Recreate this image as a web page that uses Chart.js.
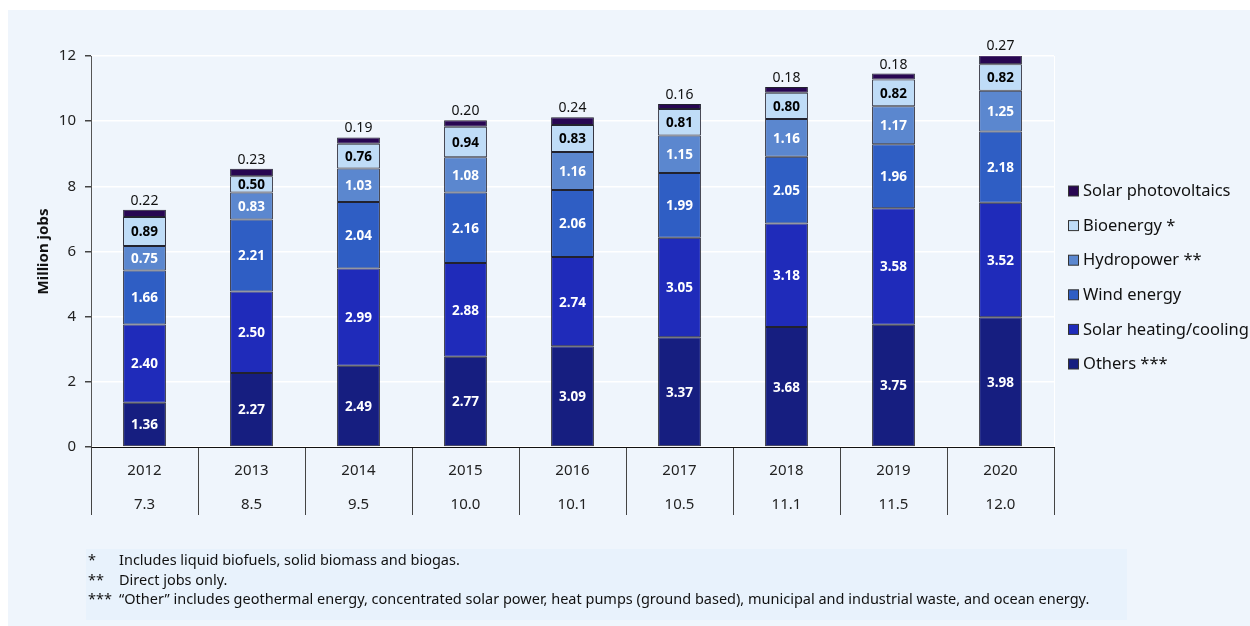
<!DOCTYPE html>
<html>
<head>
<meta charset="utf-8">
<script src="https://cdn.jsdelivr.net/npm/chart.js@4.4.0/dist/chart.umd.min.js"></script>
<style>
html,body{margin:0;padding:0;background:#fff;}
#wrap{position:relative;width:1250px;height:626px;}
</style>
</head>
<body>
<div id="wrap"><canvas id="c" width="1250" height="626"></canvas></div>
<script>
const years = ['2012','2013','2014','2015','2016','2017','2018','2019','2020'];
const totals = ['7.3','8.5','9.5','10.0','10.1','10.5','11.1','11.5','12.0'];
const others = [1.36,2.27,2.49,2.77,3.09,3.37,3.68,3.75,3.98];
const solarHeating = [2.40,2.50,2.99,2.88,2.74,3.05,3.18,3.58,3.52];
const wind = [1.66,2.21,2.04,2.16,2.06,1.99,2.05,1.96,2.18];
const hydro = [0.75,0.83,1.03,1.08,1.16,1.15,1.16,1.17,1.25];
const bio = [0.89,0.50,0.76,0.94,0.83,0.81,0.80,0.82,0.82];
const solarPV = [0.22,0.23,0.19,0.20,0.24,0.16,0.18,0.18,0.27];
const yTicks = [0,2,4,6,8,10,12];
const footnotes = [
  ['*','Includes liquid biofuels, solid biomass and biogas.'],
  ['**','Direct jobs only.'],
  ['***','\u201cOther\u201d includes geothermal energy, concentrated solar power, heat pumps (ground based), municipal and industrial waste, and ocean energy.']
];

const FONT = "'Noto Sans', 'Open Sans', sans-serif";
const seriesDefs = [
  {label:'Others ***', data:others, color:'#161e80', text:'#fff'},
  {label:'Solar heating/cooling', data:solarHeating, color:'#1f2bba', text:'#fff'},
  {label:'Wind energy', data:wind, color:'#2f5ec4', text:'#fff'},
  {label:'Hydropower **', data:hydro, color:'#5b87cf', text:'#fff'},
  {label:'Bioenergy *', data:bio, color:'#bfdcf7', text:'#000'},
  {label:'Solar photovoltaics', data:solarPV, color:'#280652', text:null}
];

const datasets = seriesDefs.map(s => ({
  label: s.label, data: s.data, backgroundColor: s.color,
  borderColor: '#22222e', borderWidth: 1, borderSkipped: false,
  barPercentage: 0.4, categoryPercentage: 1.0
}));

const bgPlugin = {
  id:'bg',
  beforeDraw(chart){
    const ctx = chart.ctx;
    ctx.save();
    ctx.fillStyle = '#ffffff';
    ctx.fillRect(0,0,chart.width,chart.height);
    ctx.fillStyle = 'rgb(239,245,252)';
    ctx.fillRect(8,10,chart.width-8,chart.height-10);
    ctx.fillStyle = 'rgb(232,242,252)';
    ctx.fillRect(86,549,1041,71);
    ctx.restore();
  },
  afterDatasetsDraw(chart){
    const ctx = chart.ctx;
    const ca = chart.chartArea;
    ctx.save();
    ctx.strokeStyle = '#ffffff';
    ctx.lineWidth = 1;
    ctx.beginPath();
    ctx.moveTo(Math.round(ca.right)+0.5, ca.top);
    ctx.lineTo(Math.round(ca.right)+0.5, ca.bottom);
    ctx.stroke();
    ctx.textAlign = 'center';
    ctx.textBaseline = 'middle';
    chart.data.datasets.forEach((ds, di) => {
      const meta = chart.getDatasetMeta(di);
      const def = seriesDefs[di];
      meta.data.forEach((bar, i) => {
        const v = ds.data[i];
        const txt = v.toFixed(2);
        if (def.text) {
          ctx.font = "bold 13.5px " + FONT;
          ctx.fillStyle = def.text;
          ctx.fillText(txt, bar.x, (bar.y + bar.base)/2 + 1);
        } else {
          ctx.font = "14px " + FONT;
          ctx.fillStyle = '#111';
          ctx.fillText(txt, bar.x, bar.y - 9);
        }
      });
    });
    ctx.textAlign = 'left';
    ctx.font = "16.5px " + FONT;
    const rows = [5,4,3,2,1,0];
    rows.forEach((di, k) => {
      const y = 191.5 + k*34.6;
      ctx.fillStyle = seriesDefs[di].color;
      ctx.fillRect(1068.5, y-5.5, 10, 10);
      ctx.strokeStyle = '#333';
      ctx.lineWidth = 1;
      ctx.strokeRect(1068.5, y-5.5, 10, 10);
      ctx.fillStyle = '#111';
      ctx.fillText(seriesDefs[di].label, 1083, y);
    });
    ctx.font = "14.5px " + FONT;
    ctx.fillStyle = '#111';
    footnotes.forEach((f, k) => {
      const y = 561 + k*19.5;
      ctx.fillText(f[0], 88, y);
      ctx.fillText(f[1], 119, y);
    });
    ctx.restore();
  }
};

new Chart(document.getElementById('c'), {
  type: 'bar',
  data: { labels: years.map((y,i)=>[y, totals[i]]), datasets },
  plugins: [bgPlugin],
  options: {
    responsive: false,
    animation: false,
    layout: { padding: { left: 22, right: 196, top: 56, bottom: 0 } },
    plugins: { legend: { display: false }, tooltip: { enabled: false } },
    scales: {
      x: {
        stacked: true,
        offset: true,
        afterFit(s){ s.height = 626 - 447; },
        grid: { offset: true, drawOnChartArea: false, drawTicks: true, tickLength: 68, tickColor: '#444', lineWidth: 1 },
        border: { display: true, color: '#111', width: 1 },
        ticks: { font: { family: FONT, size: 15, lineHeight: 34/15 }, color: '#222', padding: -61, maxRotation: 0, autoSkip: false },
      },
      y: {
        stacked: true,
        min: 0, max: 12,
        afterFit(s){ s.width = 91 - 22; },
        afterBuildTicks(s){ s.ticks = yTicks.map(v => ({value: v})); },
        grid: { color: '#ffffff', lineWidth: 1.5, tickColor: '#444', tickLength: 6, drawTicks: true },
        border: { display: true, color: '#555', width: 1 },
        ticks: { font: { family: FONT, size: 15 }, color: '#222', padding: 9 },
        title: { display: true, text: 'Million jobs', font: { family: FONT, size: 15, weight: 'bold' }, color: '#111', padding: { top: 13, bottom: 0 } }
      }
    }
  }
});
</script>
</body>
</html>
